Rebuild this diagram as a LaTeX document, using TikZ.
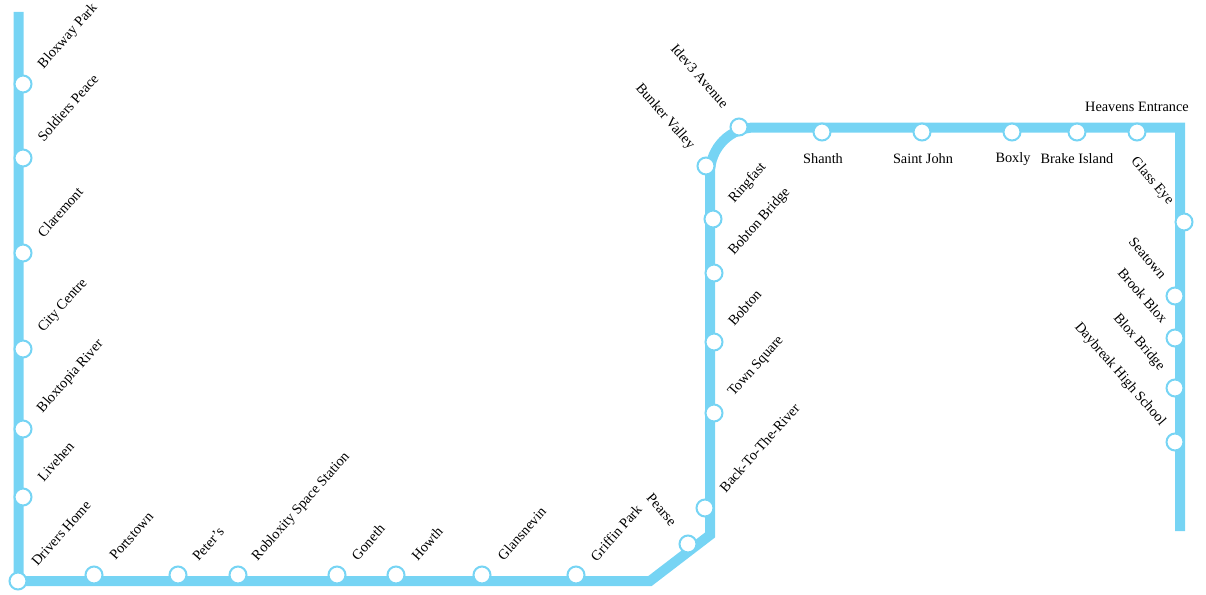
\documentclass[tikz,border=0pt]{standalone}
\usepackage{fontspec}
\setmainfont{Liberation Serif}
\definecolor{linecol}{HTML}{76D4F4}
\tikzset{
  stn/.style={circle,draw=linecol,fill=white,line width=2pt,minimum size=17pt,inner sep=0pt},
  lab/.style={font=\fontsize{14.3}{16}\selectfont,inner sep=0pt,text=black},
  up/.style={lab,rotate=48.5,anchor=west},
  dn/.style={lab,rotate=-49,anchor=east},
  route/.style={draw=linecol,line width=10pt,line join=miter,miter limit=10}
}
\begin{document}
\begin{tikzpicture}[x=1pt,y=-1pt]
\useasboundingbox (0,0) rectangle (1206,594);
\coordinate (a0) at (18.5,12);
\coordinate (a1) at (18.5,581);
\coordinate (a2) at (650,581);
\coordinate (a3) at (710,535);
\coordinate (a4) at (710,173);
\coordinate (a5) at (755,127.5);
\coordinate (a6) at (1180,127.5);
\coordinate (a7) at (1180,531);
\draw[route] (a0) -- (a1) -- (a2) -- (a3) -- (a4) .. controls (710,148) and (730,127.5) .. (a5) -- (a6) -- (a7);
\foreach \n/\x/\y in {s1/23/84,s2/23/158,s3/23/253,s4/23/349,s5/23/429,s6/23/497,s7/18/581,s8/94/575,s9/178/575,s10/238/575,s11/337/575,s12/396/575,s13/482/575,s14/576/575,s15/688/544,s16/705/508,s17/714/413,s18/714/342,s19/714/273,s20/713/219,s21/706/166,s22/739/127,s23/822/132,s24/922/132,s25/1012/132,s26/1077/132,s27/1137/132,s28/1184/222,s29/1175/296,s30/1175/338,s31/1175/388,s32/1175/442}
  \node[stn] (\n) at (\x,\y) {};
\node[up] (l1) at (41,67) {Bloxway Park};
\node[up] (l2) at (40,139) {Soldiers Peace};
\node[up] (l3) at (40,235) {Claremont};
\node[up] (l4) at (41,331) {City Centre};
\node[up] (l5) at (40,411) {Bloxtopia River};
\node[up] (l6) at (40,479) {Livehen};
\node[up] (l7) at (34,564) {Drivers Home};
\node[up] (l8) at (112,558) {Portstown};
\node[up] (l9) at (195,559) {Peter's};
\node[up] (l10) at (255,559) {Robloxity Space Station};
\node[up] (l11) at (354,558) {Goneth};
\node[up] (l12) at (414,558) {Howth};
\node[up] (l13) at (500,558) {Glansnevin};
\node[up] (l14) at (593,559) {Griffin Park};
\node[dn] (l15) at (674,524) {Pearse};
\node[up] (l16) at (722,490) {Back-To-The-River};
\node[up] (l17) at (731,395) {Town Square};
\node[up] (l18) at (730.5,323.5) {Bobton};
\node[up] (l19) at (731.5,253.5) {Bobton Bridge};
\node[up] (l20) at (731.5,201.5) {Ringfast};
\node[dn] (l21) at (692,148) {Bunker Valley};
\node[dn] (l22) at (726,106) {Idev3 Avenue};
\node[lab] (l23) at (823,159) {Shanth};
\node[lab] (l24) at (923,159) {Saint John};
\node[lab] (l25) at (1013,159) {Boxly};
\node[lab] (l26) at (1077,159) {Brake Island};
\node[lab] (l27) at (1137,107) {Heavens Entrance};
\node[dn] (l28) at (1171,203) {Glass Eye};
\node[dn] (l29) at (1164,277) {Seatown};
\node[dn] (l30) at (1165,321) {Brook Blox};
\node[dn] (l31) at (1162,369) {Blox Bridge};
\node[dn] (l32) at (1163,424) {Daybreak High School};
\end{tikzpicture}
\end{document}
